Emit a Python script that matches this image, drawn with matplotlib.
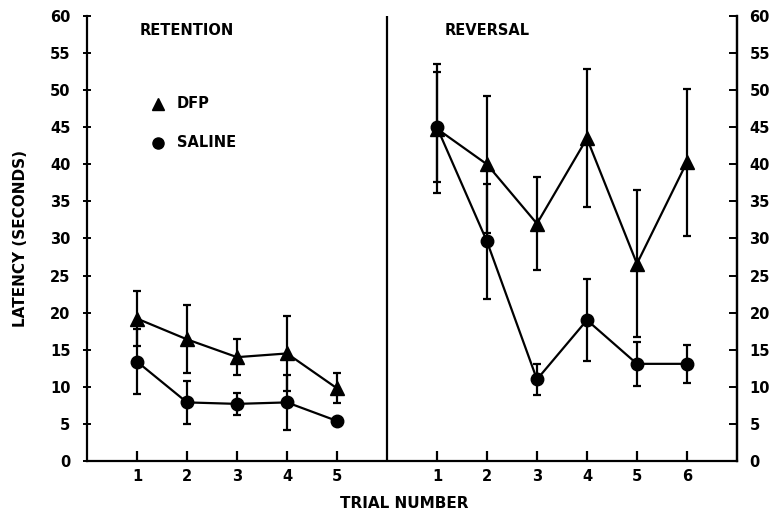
import matplotlib.pyplot as plt

# Retention phase (trials 1-5)
ret_trials = [1, 2, 3, 4, 5]
ret_dfp = [19.2, 16.4, 14.0, 14.5, 9.8]
ret_dfp_err = [3.7, 4.6, 2.4, 5.0, 2.0]
ret_sal = [13.4, 7.9, 7.7, 7.9, 5.4]
ret_sal_err = [4.4, 2.9, 1.5, 3.7, 0.0]

# Reversal phase (trials 1-6)
rev_trials = [1, 2, 3, 4, 5, 6]
rev_dfp = [44.8, 40.0, 32.0, 43.5, 26.6, 40.3]
rev_dfp_err = [8.7, 9.2, 6.3, 9.3, 9.9, 9.9]
rev_sal = [45.0, 29.6, 11.0, 19.0, 13.1, 13.1]
rev_sal_err = [7.4, 7.8, 2.1, 5.5, 3.0, 2.6]

# place both phases on one axis, reversal shifted right of the divider
gap = 6
ret_x = ret_trials
rev_x = [t + gap for t in rev_trials]

plt.rcParams['font.family'] = 'DejaVu Sans'
plt.rcParams['font.weight'] = 'bold'

fig = plt.figure(figsize=(7.79, 5.16), dpi=100)
ax = fig.add_axes([0.1117, 0.1066, 0.8343, 0.8624])

style = dict(color='black', lw=1.6, elinewidth=1.6, capsize=3, capthick=1.6)
ax.errorbar(ret_x, ret_dfp, yerr=ret_dfp_err, marker='^', ms=9.5, **style)
ax.errorbar(ret_x, ret_sal, yerr=ret_sal_err, marker='o', ms=9, **style)
ax.errorbar(rev_x, rev_dfp, yerr=rev_dfp_err, marker='^', ms=9.5, **style)
ax.errorbar(rev_x, rev_sal, yerr=rev_sal_err, marker='o', ms=9, **style)

# divider between phases
ax.axvline(gap, color='black', lw=1.6)

ax.set_xlim(0, 13)
ax.set_ylim(0, 60)
ax.spines['top'].set_visible(False)
for s in ['left', 'right', 'bottom']:
    ax.spines[s].set_linewidth(1.6)

ax.set_xticks(ret_x + rev_x)
ax.set_xticklabels([str(t) for t in ret_trials] + [str(t) for t in rev_trials])
ax.tick_params(axis='x', direction='in', length=7, width=1.6, labelsize=10.5, pad=6)

ax.set_yticks(range(0, 61, 5))
ax.tick_params(axis='y', direction='inout', length=6, width=1.4, labelsize=10.5, pad=9)

# right-hand axis with inward ticks
sec = ax.secondary_yaxis('right')
sec.set_yticks(range(0, 61, 5))
sec.tick_params(direction='in', length=6, width=1.4, labelsize=10.5, pad=9)
sec.spines['right'].set_linewidth(1.6)

ax.set_xlabel('TRIAL NUMBER', fontsize=11, fontweight='bold')
ax.xaxis.set_label_coords(0.488, -0.078)
ax.set_ylabel('LATENCY (SECONDS)', fontsize=11, fontweight='bold', labelpad=16)

ax.text(1.05, 58, 'RETENTION', fontsize=10.5, fontweight='bold', va='center')
ax.text(7.15, 58, 'REVERSAL', fontsize=10.5, fontweight='bold', va='center')

# hand-drawn legend
ax.plot([1.42], [48.2], marker='^', ms=8, color='black')
ax.text(1.8, 48.2, 'DFP', fontsize=10.5, fontweight='bold', va='center')
ax.plot([1.42], [42.9], marker='o', ms=8, color='black')
ax.text(1.8, 42.9, 'SALINE', fontsize=10.5, fontweight='bold', va='center')

plt.savefig('out.png', dpi=100)
